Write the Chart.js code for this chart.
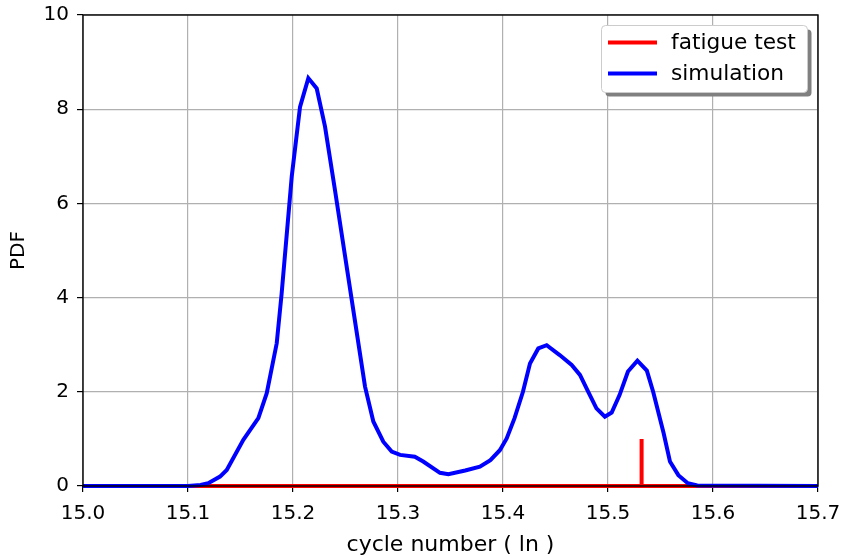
<!DOCTYPE html>
<html>
<head>
<meta charset="utf-8">
<script src="https://cdn.jsdelivr.net/npm/chart.js@4/dist/chart.umd.min.js"></script>
<style>
html,body{margin:0;padding:0;background:#fff;}
#wrap{width:841px;height:558px;position:relative;}
</style>
</head>
<body>
<div id="wrap"><canvas id="c" width="841" height="558"></canvas></div>
<script>
// Simulation PDF curve
const simX = [15.0, 15.1, 15.112, 15.1193, 15.1305, 15.1369, 15.1527, 15.167, 15.175, 15.1845, 15.1892, 15.1988, 15.2067, 15.2146, 15.2226, 15.2305, 15.24, 15.2574, 15.2686, 15.2765, 15.286, 15.294, 15.302, 15.316, 15.324, 15.34, 15.348, 15.364, 15.378, 15.388, 15.397, 15.4035, 15.411, 15.419, 15.4257, 15.4336, 15.4416, 15.454, 15.4654, 15.4733, 15.4812, 15.489, 15.497, 15.5035, 15.511, 15.519, 15.528, 15.537, 15.543, 15.553, 15.559, 15.567, 15.576, 15.585, 15.7];
const simY = [0, 0, 0.02, 0.06, 0.20, 0.34, 0.98, 1.44, 1.97, 3.03, 4.09, 6.57, 8.05, 8.66, 8.44, 7.63, 6.28, 3.74, 2.11, 1.37, 0.94, 0.73, 0.66, 0.62, 0.52, 0.28, 0.25, 0.33, 0.41, 0.55, 0.76, 1.01, 1.44, 2.00, 2.60, 2.92, 2.99, 2.78, 2.57, 2.36, 2.00, 1.65, 1.47, 1.56, 1.93, 2.43, 2.66, 2.45, 2.00, 1.12, 0.52, 0.23, 0.06, 0.01, 0];
// Fatigue test (stem)
const testX = [15.0, 15.532, 15.532, 15.532, 15.7];
const testY = [0, 0, 1, 0, 0];
const seriesNames = ["fatigue test", "simulation"];
const xTicks = [15.0, 15.1, 15.2, 15.3, 15.4, 15.5, 15.6, 15.7];
const yTicks = [0, 2, 4, 6, 8, 10];

const FONT = "'DejaVu Sans', sans-serif";

const framePlugin = {
  id: 'frame',
  afterDatasetsDraw(chart) {
    const a = chart.chartArea, ctx = chart.ctx;
    ctx.save();
    ctx.strokeStyle = '#000';
    ctx.lineWidth = 1.4;
    ctx.strokeRect(a.left, a.top, a.right - a.left, a.bottom - a.top);
    ctx.restore();
  },
  afterDraw(chart) {
    const ctx = chart.ctx;
    const ds = chart.data.datasets;
    const bx = 601.5, by = 25.5, bw = 206, bh = 67, r = 4;
    ctx.save();
    ctx.fillStyle = '#808080';
    roundRect(ctx, bx + 4, by + 4, bw, bh, r); ctx.fill();
    ctx.fillStyle = '#ffffff';
    roundRect(ctx, bx, by, bw, bh, r); ctx.fill();
    ctx.strokeStyle = '#cccccc'; ctx.lineWidth = 1;
    roundRect(ctx, bx, by, bw, bh, r); ctx.stroke();
    ctx.font = "21.7px " + FONT;
    ctx.textBaseline = 'middle';
    ctx.fillStyle = '#000';
    const rows = [42.5, 73.5];
    for (let i = 0; i < ds.length; i++) {
      ctx.strokeStyle = ds[i].borderColor;
      ctx.lineWidth = 4;
      ctx.beginPath(); ctx.moveTo(608, rows[i]); ctx.lineTo(657, rows[i]); ctx.stroke();
      ctx.fillText(ds[i].label, 671, rows[i] + 1);
    }
    ctx.restore();
  }
};
function roundRect(ctx, x, y, w, h, r) {
  ctx.beginPath();
  ctx.moveTo(x + r, y);
  ctx.lineTo(x + w - r, y); ctx.quadraticCurveTo(x + w, y, x + w, y + r);
  ctx.lineTo(x + w, y + h - r); ctx.quadraticCurveTo(x + w, y + h, x + w - r, y + h);
  ctx.lineTo(x + r, y + h); ctx.quadraticCurveTo(x, y + h, x, y + h - r);
  ctx.lineTo(x, y + r); ctx.quadraticCurveTo(x, y, x + r, y);
  ctx.closePath();
}

new Chart(document.getElementById('c'), {
  type: 'line',
  data: {
    datasets: [
      { label: seriesNames[0], data: testX.map((x, i) => ({x, y: testY[i]})), borderColor: '#ff0000', borderWidth: 4, pointRadius: 0, tension: 0, fill: false, order: 2, clip: false },
      { label: seriesNames[1], data: simX.map((x, i) => ({x, y: simY[i]})), borderColor: '#0000ff', borderWidth: 4, pointRadius: 0, tension: 0, fill: false, order: 1, clip: false }
    ]
  },
  options: {
    responsive: false,
    animation: false,
    layout: { padding: { left: 0, right: 23, top: 15, bottom: 0 } },
    plugins: { legend: { display: false }, tooltip: { enabled: false } },
    scales: {
      x: {
        type: 'linear', min: 15.0, max: 15.7,
        afterBuildTicks: s => { s.ticks = xTicks.map(v => ({value: v})); },
        afterFit: s => { s.height = 72; s.paddingLeft = 0; s.paddingRight = 0; },
        grid: { color: '#b0b0b0', lineWidth: 1.2, tickColor: '#000', tickLength: 6 },
        border: { display: false },
        ticks: { color: '#000', font: { family: FONT, size: 20 }, padding: 10, maxRotation: 0, callback: v => Number(v).toFixed(1) },
        title: { display: true, text: 'cycle number ( ln )', color: '#000', font: { family: FONT, size: 22 }, padding: { top: 0, bottom: 0 } }
      },
      y: {
        type: 'linear', min: 0, max: 10,
        afterBuildTicks: s => { s.ticks = yTicks.map(v => ({value: v})); },
        afterFit: s => { s.width = 83; s.paddingTop = 0; s.paddingBottom = 0; },
        grid: { color: '#b0b0b0', lineWidth: 1.2, tickColor: '#000', tickLength: 6 },
        border: { display: false },
        ticks: { color: '#000', font: { family: FONT, size: 20 }, padding: 8 },
        title: { display: true, text: 'PDF', color: '#000', font: { family: FONT, size: 20 }, padding: { top: 7, bottom: 0 } }
      }
    }
  },
  plugins: [framePlugin]
});
</script>
</body>
</html>
